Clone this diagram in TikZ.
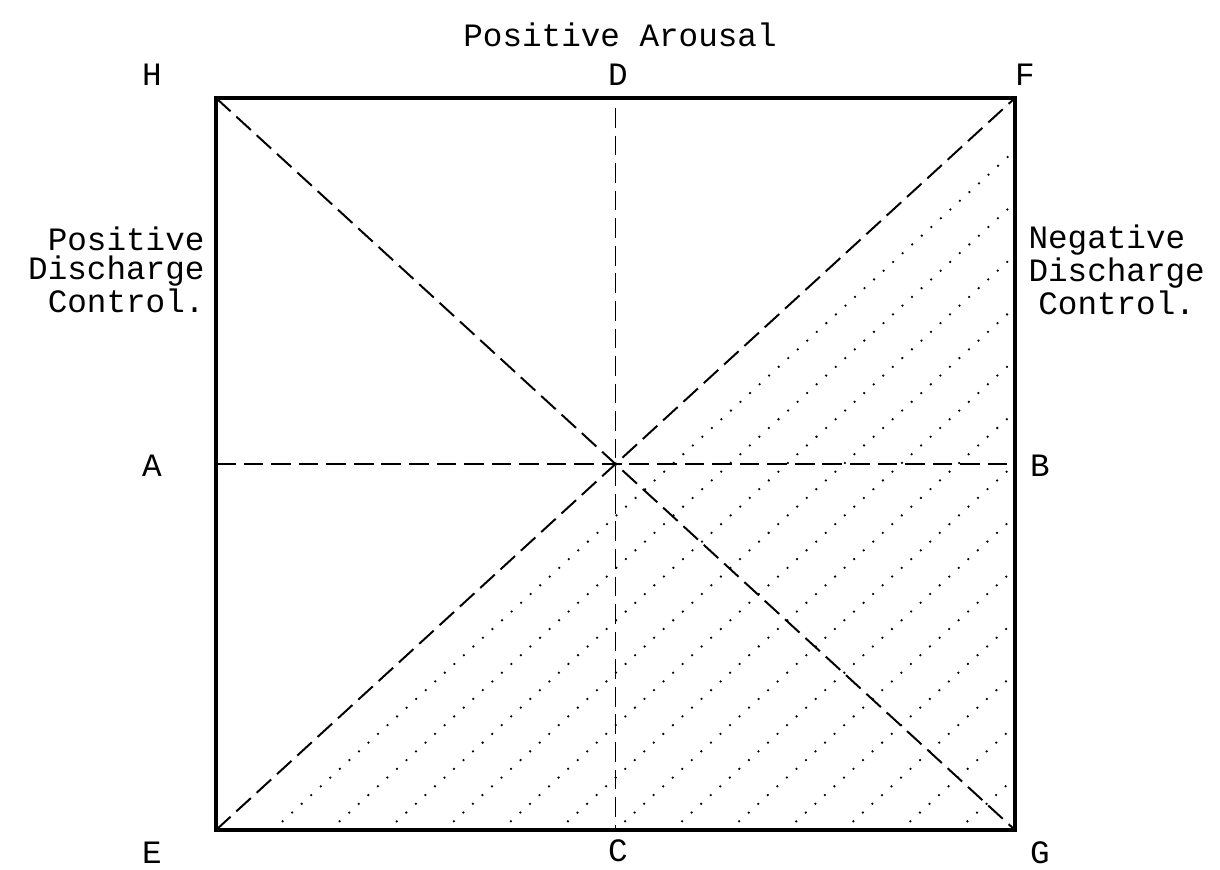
\documentclass[tikz,border=0pt]{standalone}
\usepackage{fontspec}
\setmonofont{Liberation Mono}
\usetikzlibrary{calc}

\begin{document}
\begin{tikzpicture}[x=0.0125cm, y=-0.0125cm,
                    every node/.style={font=\ttfamily\fontsize{11.6}{10.4}\selectfont, inner sep=0pt},
                    frame/.style={line width=1.5pt},
                    axis/.style={line width=0.7pt, dash pattern=on 7pt off 2.8pt},
                    hatch/.style={line width=0.9pt, line cap=round, dash pattern=on 0pt off 4.6pt}]
  \useasboundingbox (0,0) rectangle (1220,869);
  % corners of the square
  \coordinate (H) at (216,98);
  \coordinate (F) at (1015,98);
  \coordinate (E) at (216,830);
  \coordinate (G) at (1015,830);
  \coordinate (top) at ($(H)!0.5!(F)$);
  \coordinate (bot) at ($(E)!0.5!(G)$);
  \coordinate (lft) at ($(H)!0.5!(E)$);
  \coordinate (rgt) at ($(F)!0.5!(G)$);
  % dotted lines in the lower right half
  \foreach \k in {1,...,13}
    \draw[hatch] ($(E)!\k/14!(G)$) -- ($(G)!{1-\k/14}!(F)$);
  % dashed lines through the centre
  \draw[axis] (H) -- (G);
  \draw[axis] (E) -- (F);
  \draw[axis] ($(top)+(0,10)$) -- (bot);
  \draw[axis] (lft) -- (rgt);
  \draw[frame] (H) rectangle (G);
  % labels
  \node (arousal) at (620,35) {Positive Arousal};
  \node (lblH) at (152,75) {H};
  \node (lblD) at (618,75) {D};
  \node (lblF) at (1025,75) {F};
  \node (lblA) at (152,466) {A};
  \node (lblB) at (1040,466) {B};
  \node (lblE) at (152,853) {E};
  \node (lblC) at (618,851) {C};
  \node (lblG) at (1040,853) {G};
  \node[anchor=east, align=right] (posctl) at (205,270) {Positive\\Discharge\\Control.};
  \node[anchor=west, align=left] (negctl) at (1028,270) {Negative\\Discharge\\\hspace{0.3em}Control.};
\end{tikzpicture}
\end{document}
